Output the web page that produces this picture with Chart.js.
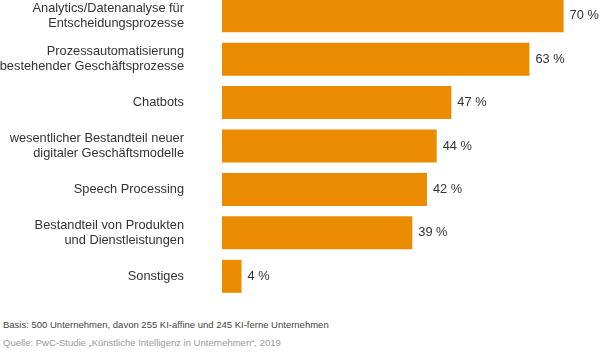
<!DOCTYPE html>
<html>
<head>
<meta charset="utf-8">
<script src="https://cdn.jsdelivr.net/npm/chart.js@4"></script>
<style>
  body { margin: 0; background: #fff; }
  #wrap { position: relative; width: 600px; height: 359px; overflow: hidden; font-family: "Liberation Sans", Arial, sans-serif; }
  #box { position: absolute; left: 0; top: -6px; width: 600px; height: 310px; }
  .nota { position: absolute; left: 3px; font-size: 9.5px; white-space: nowrap; }
  #basis { top: 319px; color: #444; }
  #quelle { top: 337px; color: #999; }
</style>
</head>
<body>
<div id="wrap">
  <div id="box"><canvas id="grafico"></canvas></div>
  <div class="nota" id="basis">Basis: 500 Unternehmen, davon 255 KI-affine und 245 KI-ferne Unternehmen</div>
  <div class="nota" id="quelle">Quelle: PwC-Studie „Künstliche Intelligenz in Unternehmen“, 2019</div>
</div>
<script>
const kategorien = [
    ["Analytics/Datenanalyse für", "Entscheidungsprozesse"],
    ["Prozessautomatisierung", "bestehender Geschäftsprozesse"],
    "Chatbots",
    ["wesentlicher Bestandteil neuer", "digitaler Geschäftsmodelle"],
    "Speech Processing",
    ["Bestandteil von Produkten", "und Dienstleistungen"],
    "Sonstiges"
];
const anteile = [70, 63, 47, 44, 42, 39, 4];

const schrift = "'Liberation Sans', Arial, sans-serif";

// Prozentwerte rechts neben die Balken schreiben
const wertLabels = {
    id: "wertLabels",
    afterDatasetsDraw(chart) {
        const ctx = chart.ctx;
        const meta = chart.getDatasetMeta(0);
        ctx.save();
        ctx.font = "12.8px " + schrift;
        ctx.fillStyle = "#333";
        ctx.textAlign = "left";
        ctx.textBaseline = "middle";
        meta.data.forEach((bar, i) => {
            ctx.fillText(anteile[i] + " %", bar.x + 6, bar.y);
        });
        ctx.restore();
    }
};

new Chart(document.getElementById("grafico"), {
    type: "bar",
    data: {
        labels: kategorien,
        datasets: [{
            data: anteile,
            backgroundColor: "#EB8C00",
            borderWidth: 0,
            barPercentage: 1,
            categoryPercentage: 0.76
        }]
    },
    options: {
        indexAxis: "y",
        responsive: true,
        maintainAspectRatio: false,
        animation: false,
        layout: { autoPadding: false, padding: { left: 0, right: 12, top: 0, bottom: 6 } },
        plugins: {
            legend: { display: false },
            title: { display: false },
            tooltip: { enabled: false }
        },
        scales: {
            x: {
                display: false,
                min: 0,
                max: 75
            },
            y: {
                grid: { display: false, drawTicks: false },
                border: { display: false },
                afterFit(scale) {
                    scale.width = 222;
                    scale.paddingTop = 0;
                    scale.paddingBottom = 0;
                },
                ticks: {
                    padding: 38,
                    color: "#333",
                    font: { family: schrift, size: 12.8, lineHeight: 1.17 }
                }
            }
        }
    },
    plugins: [wertLabels]
});
</script>
</body>
</html>
